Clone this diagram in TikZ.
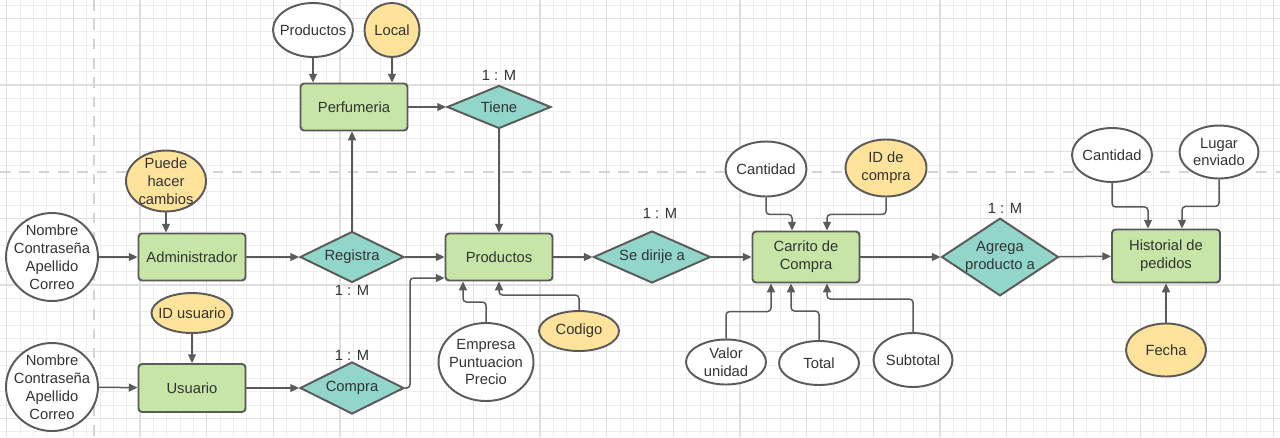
\documentclass[tikz,border=0pt]{standalone}
\usepackage{fontspec}
\setmainfont{Liberation Sans}
\usetikzlibrary{shapes.geometric,arrows.meta,calc}
\definecolor{verde}{HTML}{C6E5A7}
\definecolor{turquesa}{HTML}{92D5C9}
\definecolor{amarillo}{HTML}{FFE39A}
\definecolor{borde}{HTML}{5A5A5A}
\definecolor{texto}{HTML}{333333}
\definecolor{rejilla}{HTML}{EEEEEE}
\definecolor{rejillab}{HTML}{DFDFDF}
\definecolor{guia}{HTML}{D4D4D4}
\begin{document}
\begin{tikzpicture}[x=0.02cm, y=-0.02cm,
        every node/.style={font=\fontsize{8.4}{10.2}\selectfont, text=texto, align=center},
        entidad/.style={rectangle, rounded corners=2pt, draw=borde, line width=1.1pt, fill=verde, minimum width=2.14cm, minimum height=0.94cm, inner sep=0pt},
        relacion/.style={diamond, draw=borde, line width=1.1pt, fill=turquesa, aspect=2, inner sep=0pt},
        atributo/.style={ellipse, draw=borde, line width=1.1pt, fill=white, inner xsep=-4pt, inner ysep=-3pt},
        clave/.style={atributo, fill=amarillo},
        flecha/.style={draw=borde, line width=0.85pt, -{Triangle[length=5pt,width=4.5pt]}, rounded corners=2pt},
        card/.style={inner sep=0pt}]

        \useasboundingbox (0, 0) rectangle (1280, 437);
        \fill[white] (0, 0) rectangle (1280, 437);
        \foreach \i in {0,...,95} \draw[rejilla, line width=0.5pt] ({6.67+13.333*\i}, 0) -- ({6.67+13.333*\i}, 437);
        \foreach \j in {0,...,32} \draw[rejilla, line width=0.5pt] (0, {5+13.333*\j}) -- (1280, {5+13.333*\j});
        \foreach \i in {0,...,19} \draw[rejillab, line width=0.6pt] ({6.67+66.667*\i}, 0) -- ({6.67+66.667*\i}, 437);
        \foreach \j in {0,...,6} \draw[rejillab, line width=0.6pt] (0, {18.33+66.667*\j}) -- (1280, {18.33+66.667*\j});
        \draw[guia, line width=1.3pt, dash pattern=on 6pt off 5pt] (94, 0) -- (94, 437);
        \draw[guia, line width=1.3pt, dash pattern=on 6pt off 5pt] (0, 172) -- (1280, 172);

        \node[entidad] (perf) at (354, 107) {Perfumeria};
        \node[entidad] (admin) at (192, 257) {Administrador};
        \node[entidad, minimum height=0.96cm] (usr) at (192, 388) {Usuario};
        \node[entidad] (prod) at (499, 257) {Productos};
        \node[entidad, minimum height=1.02cm] (carrito) at (806, 257) {Carrito de\\Compra};
        \node[entidad, minimum width=2.16cm, minimum height=1.06cm] (hist) at (1166, 256) {Historial de\\pedidos};

        \node[relacion, minimum width=2.08cm, minimum height=0.86cm] (tiene) at (499, 107) {Tiene};
        \node[relacion, minimum width=2.08cm, minimum height=1.02cm] (registra) at (352, 257) {Registra};
        \node[relacion, minimum width=2.08cm, minimum height=1.04cm] (compra) at (352, 388) {Compra};
        \node[relacion, minimum width=2.34cm, minimum height=1.04cm] (dirije) at (652, 257) {Se dirije a};
        \node[relacion, aspect=1.5, minimum width=2.34cm, minimum height=1.54cm] (agrega) at (1000, 257) {Agrega\\producto a};

        \node[card] (m1) at (499, 75) {1 : M};
        \node[card] (m2) at (352, 290) {1 : M};
        \node[card] (m3) at (352, 355) {1 : M};
        \node[card] (m4) at (660, 213) {1 : M};
        \node[card] (m5) at (1005, 208) {1 : M};

        \node[atributo, minimum width=1.6cm, minimum height=1.08cm] (eprod) at (313, 30) {Productos};
        \node[clave, minimum width=1.1cm, minimum height=1.08cm] (elocal) at (392, 30) {Local};
        \node[clave, minimum width=1.6cm, minimum height=1.22cm] (epuede) at (166, 181) {Puede\\hacer\\cambios};
        \node[atributo, minimum width=1.84cm, minimum height=1.76cm] (eadmin) at (52, 257) {Nombre\\Contraseña\\Apellido\\Correo};
        \node[clave, minimum width=1.62cm, minimum height=0.8cm] (eid) at (192, 313) {ID usuario};
        \node[atributo, minimum width=1.84cm, minimum height=1.76cm] (eusr) at (52, 387) {Nombre\\Contraseña\\Apellido\\Correo};
        \node[atributo, minimum width=1.9cm, minimum height=1.56cm] (eemp) at (486, 362) {Empresa\\Puntuacion\\Precio};
        \node[clave, minimum width=1.6cm, minimum height=0.8cm] (ecod) at (579, 331) {Codigo};
        \node[atributo, minimum width=1.62cm, minimum height=1.1cm] (ecant) at (766, 169) {Cantidad};
        \node[clave, minimum width=1.62cm, minimum height=1.14cm] (eidc) at (886, 168) {ID de\\compra};
        \node[atributo, minimum width=1.6cm, minimum height=0.9cm] (evalor) at (726, 362) {Valor\\unidad};
        \node[atributo, minimum width=1.6cm, minimum height=0.88cm] (etotal) at (819, 363) {Total};
        \node[atributo, minimum width=1.58cm, minimum height=1.08cm] (esub) at (913, 360) {Subtotal};
        \node[atributo, minimum width=1.6cm, minimum height=1.08cm] (ecant2) at (1112, 155) {Cantidad};
        \node[atributo, minimum width=1.58cm, minimum height=1.06cm] (elugar) at (1219, 152) {Lugar\\enviado};
        \node[clave, minimum width=1.6cm, minimum height=1.06cm] (efecha) at (1166, 350) {Fecha};

        \coordinate (codo) at (410, 278);

        \draw[flecha] (eprod.south) to (eprod.south |- perf.north);
        \draw[flecha] (elocal.south) to (elocal.south |- perf.north);
        \draw[flecha] (perf) to (tiene);
        \draw[flecha] (tiene) to (prod);
        \draw[flecha] (registra.north) to (registra.north |- perf.south);
        \draw[flecha] (epuede.south) to (epuede.south |- admin.north);
        \draw[flecha] (eadmin) to (admin);
        \draw[flecha] (admin) to (registra);
        \draw[flecha] (registra) to (prod);
        \draw[flecha] (eid) to (usr);
        \draw[flecha] (eusr) to (usr);
        \draw[flecha] (usr) to (compra);
        \draw[flecha] (compra.east) -| (codo) -- (codo -| prod.west);
        \draw[flecha] (eemp.north) -- ++(0, -20) -| ($(prod.south)+(-36, 0)$);
        \draw[flecha] (ecod.north) -- ++(0, -15) -| (prod.south);
        \draw[flecha] (prod) to (dirije);
        \draw[flecha] (dirije) to (carrito);
        \draw[flecha] (ecant.south) -- ++(0, 17) -| ($(carrito.north)+(-14, 0)$);
        \draw[flecha] (eidc.south) -- ++(0, 17) -| ($(carrito.north)+(21, 0)$);
        \draw[flecha] (evalor.north) -- ++(0, -27) -| ($(carrito.south)+(-35, 0)$);
        \draw[flecha] (etotal.north) -- ++(0, -29) -| ($(carrito.south)+(-15, 0)$);
        \draw[flecha] (esub.north) -- ++(0, -33) -| ($(carrito.south)+(21, 0)$);
        \draw[flecha] (carrito) to (agrega);
        \draw[flecha] (agrega) to (hist);
        \draw[flecha] (ecant2.south) -- ++(0, 24) -| ($(hist.north)+(-18, 0)$);
        \draw[flecha] (elugar.south) -- ++(0, 27) -| ($(hist.north)+(16, 0)$);
        \draw[flecha] (efecha) to (hist);

    \end{tikzpicture}
\end{document}
